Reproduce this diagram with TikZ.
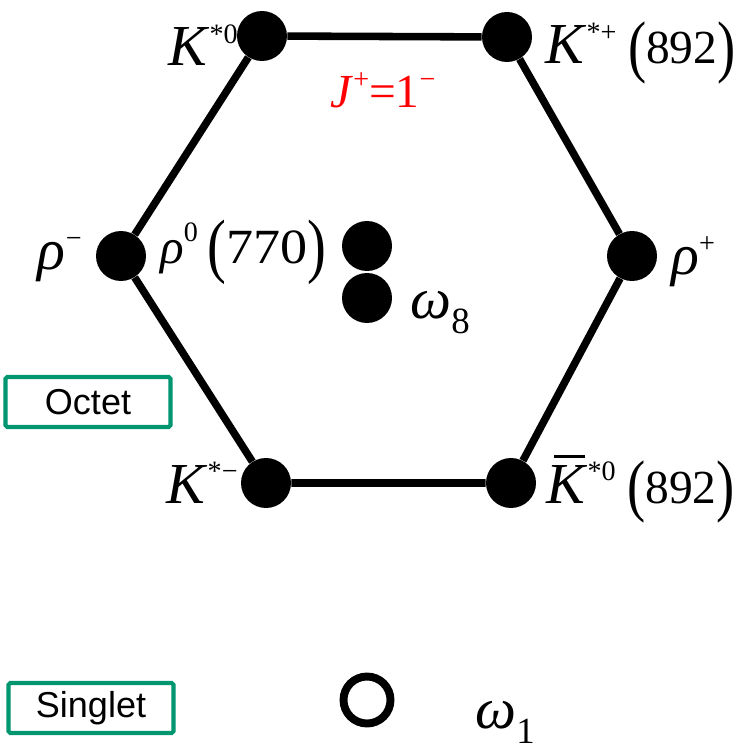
\documentclass[tikz,border=0pt]{standalone}
\usepackage{graphicx}
\usepackage{fontspec}
\setmainfont{Liberation Serif}
\newfontfamily\labelfont{Liberation Sans}
\usetikzlibrary{positioning}
\definecolor{boxgreen}{RGB}{0,150,112}
% superscript / subscript helpers
\newcommand\supx[2][11pt]{\raisebox{#1}{\fontsize{16}{16}\selectfont #2}}
\newcommand\subx[2][-9pt]{\raisebox{#1}{\fontsize{21}{21}\selectfont #2}}
\newcommand\bigp[1]{\raisebox{-0.11em}{\scalebox{1.15}[1.45]{#1}}}
\newcommand\kbar{\makebox[0pt][l]{\hspace{0.14em}\raisebox{0.78em}{\rule{0.52em}{0.05em}}}\textit{K}}

\begin{document}
\begin{tikzpicture}[
    x=0.02cm, y=-0.02cm,
    dot/.style={circle, fill=black, inner sep=0pt, minimum size=1cm},
    ring/.style={circle, draw, line width=4.5pt, inner sep=0pt, minimum size=0.94cm},
    edge/.style={line width=4.3pt},
    lbl/.style={inner sep=0pt, font=\fontsize{33}{35}\selectfont},
    multbox/.style={draw=boxgreen, line width=2.3pt, rounded corners=1pt,
               minimum width=3.3cm, minimum height=1cm, inner sep=0pt,
               font=\labelfont\fontsize{20.5}{22}\selectfont}
]
\useasboundingbox (0,0) rectangle (750,756);

% octet
\node[dot] (kst0) at (262, 36) {};
\node[dot] (kstp) at (507, 37) {};
\node[dot] (rhom) at (121, 256) {};
\node[dot] (rhop) at (632, 256) {};
\node[dot] (kstm) at (266, 483) {};
\node[dot] (kstb) at (511, 483) {};
\node[dot] (rho0) at (367, 246) {};
\node[dot] (omg8) at (367, 298) {};

\draw[edge] (kst0) -- (kstp) -- (rhop) -- (kstb) -- (kstm) -- (rhom) -- (kst0);

% labels
\node[lbl, anchor=base east] (kst0lbl) at (238, 66) {\textit{K}\supx[13pt]{*0}};
\node[lbl, anchor=base west] (kstplbl) at (545, 64)
    {\textit{K}\supx[13pt]{*+}\hspace{0.2em}{\fontsize{27}{30}\selectfont\bigp{(}892\bigp{)}}};
\node[lbl, anchor=base, text=red, font=\fontsize{27}{28}\selectfont] (jpclbl) at (383, 108)
    {\textit{J}\supx[11pt]{+}=1\supx[11pt]{−}};
\node[lbl, anchor=base east, font=\fontsize{33}{34}\selectfont] (rhomlbl) at (82, 270) {\textit{ρ}\supx[13pt]{−}};
\node[lbl, anchor=base west, font=\fontsize{28}{30}\selectfont] (rho0lbl) at (160, 264)
    {\textit{ρ}\supx[13pt]{0}\hspace{0.2em}\bigp{(}\scalebox{1.1}[1]{770}\bigp{)}};
\node[lbl, anchor=base west, font=\fontsize{33}{34}\selectfont] (rhoplbl) at (671, 275) {\textit{ρ}\supx[13pt]{+}};
\node[lbl, anchor=base west, font=\fontsize{33}{34}\selectfont] (omg8lbl) at (410, 318) {\textit{ω}\subx{8}};
\node[lbl, anchor=base east] (kstmlbl) at (238, 503) {\textit{K}\supx[13pt]{*−}};
\node[lbl, anchor=base west] (kstblbl) at (546, 503)
    {\kbar\supx[13pt]{*0}\hspace{0.2em}{\fontsize{27}{30}\selectfont\bigp{(}892\bigp{)}}};

% singlet
\node[ring] (omg1) at (367, 700) {};
\node[lbl, anchor=base west, font=\fontsize{33}{34}\selectfont] (omg1lbl) at (475, 728) {\textit{ω}\subx{1}};

% multiplet tags
\node[multbox] (octet) at (88, 402) {Octet};
\node[multbox] (singlet) at (91, 708) {Singlet};
\end{tikzpicture}
\end{document}
